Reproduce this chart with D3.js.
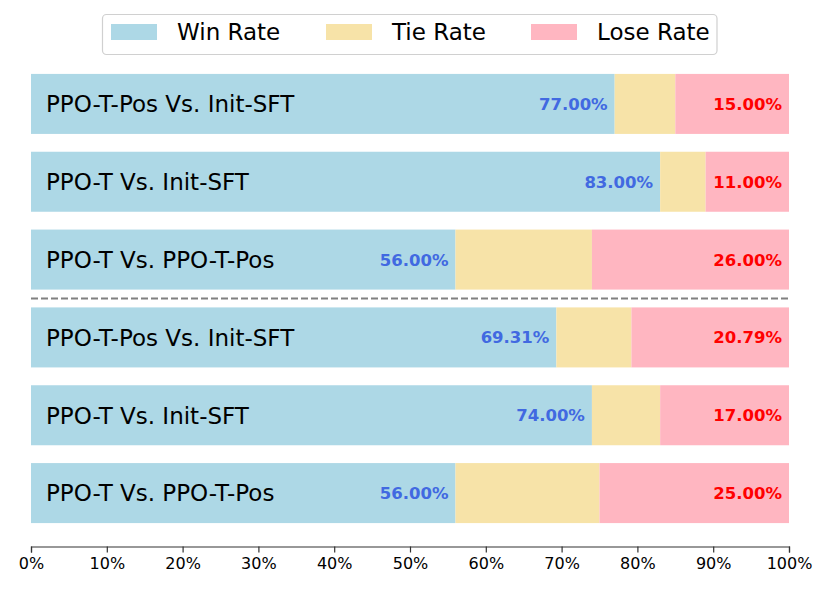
<!DOCTYPE html>
<html>
<head>
<meta charset="utf-8">
<script src="https://cdn.jsdelivr.net/npm/d3@7"></script>
<style>
  body { margin: 0; background: #fff; }
  #chart { width: 830px; height: 593px; }
  text { font-family: "DejaVu Sans", sans-serif; }
</style>
</head>
<body>
<div id="chart"></div>
<script>

var comparisons = ["PPO-T-Pos Vs. Init-SFT", "PPO-T Vs. Init-SFT", "PPO-T Vs. PPO-T-Pos",
                   "PPO-T-Pos Vs. Init-SFT", "PPO-T Vs. Init-SFT", "PPO-T Vs. PPO-T-Pos"];
var winRate  = [77.00, 83.00, 56.00, 69.31, 74.00, 56.00];
var tieRate  = [8.00, 6.00, 18.00, 9.90, 9.00, 19.00];
var loseRate = [15.00, 11.00, 26.00, 20.79, 17.00, 25.00];
var seriesNames = ["Win Rate", "Tie Rate", "Lose Rate"];
var seriesColors = ["#add8e6", "#f7e3a8", "#ffb6c1"];
var xTicks = [0, 10, 20, 30, 40, 50, 60, 70, 80, 90, 100];

var width = 830, height = 593;
var margin = {left: 31, right: 41, top: 65, bottom: 61};
var axisY = 546.5;

var svg = d3.select("#chart")
    .append("svg")
    .attr("width", width)
    .attr("height", height);

var x = d3.scaleLinear()
    .domain([0, 100])
    .range([margin.left, width - margin.right]);

var y = d3.scaleBand()
    .domain(d3.range(comparisons.length))
    .range([margin.top, height - margin.bottom])
    .paddingInner(0.229)
    .paddingOuter(0.1145);

var rows = comparisons.map(function(name, i) {
    return {i: i, name: name, win: winRate[i], tie: tieRate[i], lose: loseRate[i]};
});

var stack = d3.stack().keys(["win", "tie", "lose"]);
var layers = stack(rows);

svg.selectAll("g.layer")
    .data(layers)
    .enter()
    .append("g")
    .attr("class", "layer")
    .attr("fill", function(d, k) { return seriesColors[k]; })
    .selectAll("rect")
    .data(function(d) { return d; })
    .enter()
    .append("rect")
    .attr("x", function(d) { return x(d[0]); })
    .attr("y", function(d) { return y(d.data.i); })
    .attr("width", function(d) { return x(d[1]) - x(d[0]); })
    .attr("height", y.bandwidth());

// category names inside bars
svg.selectAll("text.cat")
    .data(rows)
    .enter()
    .append("text")
    .attr("class", "cat")
    .attr("x", x(0) + 15)
    .attr("y", function(d) { return y(d.i) + y.bandwidth() / 2; })
    .attr("dy", "0.36em")
    .attr("font-size", "23px")
    .attr("fill", "#000")
    .text(function(d) { return d.name; });

// win labels
svg.selectAll("text.win")
    .data(rows)
    .enter()
    .append("text")
    .attr("class", "win")
    .attr("x", function(d) { return x(d.win) - 7; })
    .attr("y", function(d) { return y(d.i) + y.bandwidth() / 2; })
    .attr("dy", "0.36em")
    .attr("text-anchor", "end")
    .attr("font-size", "16.5px")
    .attr("font-weight", "bold")
    .attr("fill", "#4169e1")
    .text(function(d) { return d.win.toFixed(2) + "%"; });

// lose labels
svg.selectAll("text.lose")
    .data(rows)
    .enter()
    .append("text")
    .attr("class", "lose")
    .attr("x", x(100) - 7)
    .attr("y", function(d) { return y(d.i) + y.bandwidth() / 2; })
    .attr("dy", "0.36em")
    .attr("text-anchor", "end")
    .attr("font-size", "16.5px")
    .attr("font-weight", "bold")
    .attr("fill", "#ff0000")
    .text(function(d) { return d.lose.toFixed(2) + "%"; });

// dashed separator between the two groups
var sepY = (y(2) + y.bandwidth() + y(3)) / 2;
svg.append("line")
    .attr("x1", x(0))
    .attr("x2", x(100))
    .attr("y1", sepY)
    .attr("y2", sepY)
    .attr("stroke", "#808080")
    .attr("stroke-width", 2)
    .attr("stroke-dasharray", "7,3");

// x axis
var xAxis = svg.append("g")
    .attr("transform", "translate(0," + axisY + ")")
    .call(d3.axisBottom(x)
        .tickValues(xTicks)
        .tickSize(6)
        .tickPadding(5)
        .tickFormat(function(d) { return d + "%"; }));
xAxis.select(".domain").attr("stroke", "#333").attr("stroke-width", 1.2);
xAxis.selectAll(".tick line").attr("stroke", "#333").attr("stroke-width", 1.2);
xAxis.selectAll(".tick text")
    .attr("font-size", "16px")
    .attr("font-family", "DejaVu Sans, sans-serif")
    .attr("fill", "#000");

// legend
var legend = svg.append("g");
legend.append("rect")
    .attr("x", 102.5)
    .attr("y", 14.5)
    .attr("width", 614.5)
    .attr("height", 40)
    .attr("rx", 4)
    .attr("fill", "#fff")
    .attr("stroke", "#d0d0d0")
    .attr("stroke-width", 1.2);

var legendX = [111, 326, 531];
var items = legend.selectAll("g.item")
    .data(seriesNames)
    .enter()
    .append("g")
    .attr("class", "item")
    .attr("transform", function(d, k) { return "translate(" + legendX[k] + ",24)"; });
items.append("rect")
    .attr("width", 46)
    .attr("height", 16)
    .attr("fill", function(d, k) { return seriesColors[k]; });
items.append("text")
    .attr("x", 66)
    .attr("y", 8)
    .attr("dy", "0.36em")
    .attr("font-size", "23px")
    .attr("fill", "#000")
    .text(function(d) { return d; });

</script>
</body>
</html>
